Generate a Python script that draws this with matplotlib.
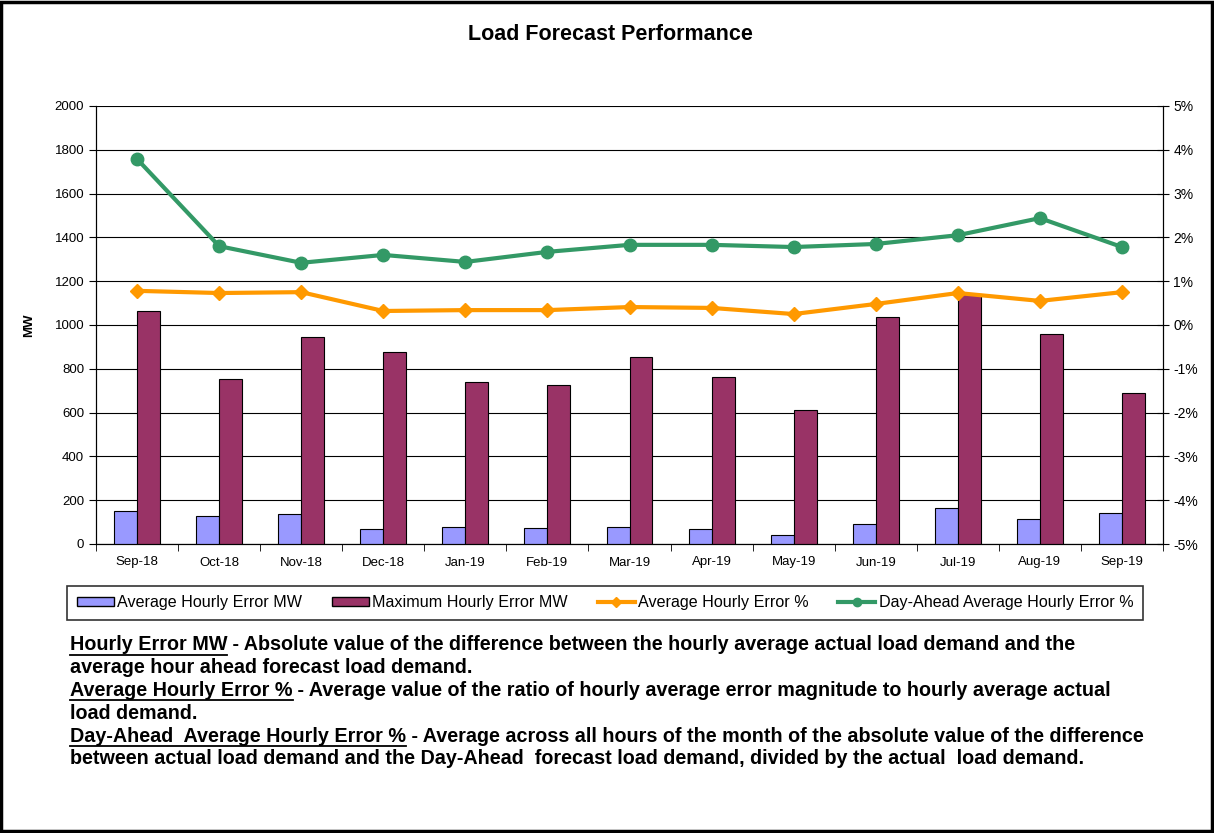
import matplotlib
matplotlib.use('Agg')
import matplotlib.pyplot as plt
from matplotlib.patches import Rectangle
from matplotlib.lines import Line2D
from matplotlib.ticker import FuncFormatter
import numpy as np

plt.rcParams['font.family'] = ['Liberation Sans', 'DejaVu Sans']

months = ['Sep-18', 'Oct-18', 'Nov-18', 'Dec-18', 'Jan-19', 'Feb-19', 'Mar-19',
          'Apr-19', 'May-19', 'Jun-19', 'Jul-19', 'Aug-19', 'Sep-19']
avg_err_mw = [151, 128, 137, 68, 78, 73, 78, 68, 41, 91, 164, 114, 141]
max_err_mw = [1064, 753, 945, 877, 740, 726, 854, 763, 612, 1037, 1142, 959, 690]
avg_err_pct = [0.78, 0.73, 0.75, 0.32, 0.34, 0.34, 0.41, 0.39, 0.25, 0.48, 0.73, 0.55, 0.75]
da_err_pct = [3.79, 1.80, 1.42, 1.60, 1.44, 1.67, 1.83, 1.83, 1.78, 1.85, 2.05, 2.44, 1.78]

notes = [
    [('Hourly Error MW', True), (' - Absolute value of the difference between the hourly average actual load demand and the', False)],
    [('average hour ahead forecast load demand.', False)],
    [('Average Hourly Error %', True), (' - Average value of the ratio of hourly average error magnitude to hourly average actual', False)],
    [('load demand.', False)],
    [('Day-Ahead  Average Hourly Error %', True), (' - Average across all hours of the month of the absolute value of the difference', False)],
    [('between actual load demand and the Day-Ahead  forecast load demand, divided by the actual  load demand.', False)],
]

W, H = 1214, 833
fig = plt.figure(figsize=(W / 100, H / 100), dpi=100)
fig.patches.append(Rectangle((0.001, 0.002), 0.997, 0.996, transform=fig.transFigure,
                             fill=False, edgecolor='black', linewidth=2.5))

ax = fig.add_axes([96 / W, 1 - 544 / H, (1163 - 96) / W, (544 - 106) / H])
x = np.arange(len(months))
bw = 0.28
ax.bar(x - bw / 2, avg_err_mw, bw, color='#9999FF', edgecolor='black', linewidth=0.8,
       label='Average Hourly Error MW', zorder=3)
ax.bar(x + bw / 2, max_err_mw, bw, color='#993366', edgecolor='black', linewidth=0.8,
       label='Maximum Hourly Error MW', zorder=3)
ax.set_ylim(0, 2000)
ax.set_xlim(-0.5, len(months) - 0.5)
ax.set_yticks(range(0, 2001, 200))
ax.grid(axis='y', color='black', linewidth=0.8, zorder=0)
ax.set_xticks(x)
ax.set_xticklabels(months, fontsize=9.5)
ax.set_xticks(np.arange(-0.5, len(months)), minor=True)
ax.tick_params(axis='x', which='major', length=0, pad=9)
ax.tick_params(axis='x', which='minor', length=5, direction='out')
ax.tick_params(axis='y', labelsize=9.5, length=5, direction='out')
ax.set_ylabel('MW', fontsize=9.5, fontweight='bold', labelpad=14)
ax.spines['top'].set_visible(False)

ax2 = ax.twinx()
ax2.plot(x, avg_err_pct, color='#FF9900', linewidth=3, marker='D', markersize=7,
         label='Average Hourly Error %', zorder=4)
ax2.plot(x, da_err_pct, color='#339966', linewidth=3, marker='o', markersize=9,
         label='Day-Ahead Average Hourly Error %', zorder=4)
ax2.set_ylim(-5, 5)
ax2.set_yticks(range(-5, 6))
ax2.yaxis.set_major_formatter(FuncFormatter(lambda v, p: f'{int(v)}%'))
ax2.tick_params(axis='y', labelsize=10, length=8, direction='inout')
ax2.spines['top'].set_visible(False)

handles = [
    Rectangle((0, 0), 1, 1, facecolor='#9999FF', edgecolor='black'),
    Rectangle((0, 0), 1, 1, facecolor='#993366', edgecolor='black'),
    Line2D([], [], color='#FF9900', linewidth=3, marker='D', markersize=5),
    Line2D([], [], color='#339966', linewidth=3, marker='o', markersize=6),
]
labels = ['Average Hourly Error MW', 'Maximum Hourly Error MW', 'Average Hourly Error %',
          'Day-Ahead Average Hourly Error %']
leg = fig.legend(handles, labels, loc='center', bbox_to_anchor=(605 / W, 1 - 603 / H),
                 ncol=4, fontsize=11.6, frameon=True, fancybox=False, edgecolor='black',
                 handlelength=2.3, handleheight=0.5, handletextpad=0.2,
                 columnspacing=1.85, borderpad=0.6, borderaxespad=0)
leg.get_frame().set_linewidth(1.2)

fig.text(610 / W, 1 - 34 / H, 'Load Forecast Performance', ha='center', va='center',
         fontsize=15.5, fontweight='bold')

# notes with underlined headings
fig.canvas.draw()
renderer = fig.canvas.get_renderer()
y_px = 645
for line in notes:
    x_px = 70
    for txt, under in line:
        t = fig.text(x_px / W, 1 - y_px / H, txt, ha='left', va='center',
                     fontsize=14.2, fontweight='bold')
        bb = t.get_window_extent(renderer)
        if under:
            uy = 1 - (y_px + 9.5) / H
            fig.add_artist(Line2D([bb.x0 / W, bb.x1 / W], [uy, uy],
                                  transform=fig.transFigure, color='black', linewidth=1.3))
        x_px = bb.x1
    y_px += 22.8

fig.savefig('out.png', dpi=100)
